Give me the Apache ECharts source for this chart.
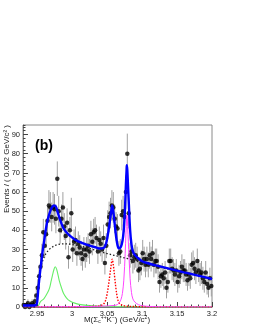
<!DOCTYPE html>
<html>
<head>
<meta charset="utf-8">
<script src="https://cdn.jsdelivr.net/npm/echarts@6/dist/echarts.min.js"></script>
<style>
html,body{margin:0;padding:0;background:#fff;}
#chart{width:255px;height:330px;}
</style>
</head>
<body>
<div id="chart"></div>
<script>
// ---- binning of the histogram (bin width 0.002 GeV/c^2) ----
const binFirstCenter = 2.931;
const binWidth = 0.002;

// ---- data: events per bin ----
const counts = [
  1, 0, 1, 2, 0, 1, 2, 1, 3, 6,
  10, 16, 21, 27, 39, 32, 38, 45, 53, 52,
  47, 52, 51, 46, 67, 50, 40, 46, 52, 42,
  37, 44, 26, 40, 49, 30, 34, 35, 28, 33,
  31, 28, 25, 30, 27, 30, 32, 29, 38, 34,
  39, 40, 36, 29, 35, 33, 30, 36, 23, 32,
  43, 47, 49, 53, 52, 46, 42, 41, 28, 29,
  48, 50, 47, 60, 80, 49, 27, 29, 24, 26,
  27, 25, 19, 20, 23, 28, 25, 22, 25, 22,
  27, 25, 28, 22, 24, 24, 21, 13, 16, 17,
  15, 18, 10, 13, 24, 24, 20, 19, 17, 19,
  13, 16, 18, 21, 19, 19, 17, 14, 17, 15,
  22, 23, 20, 18, 24, 19, 17, 18, 15, 13,
  18, 12, 10, 15, 11
];
// ---- data: error on each bin ----
const errors = [
  1.5, 1, 1.5, 2, 1, 1.5, 2, 1.5, 2.5, 3.5,
  4.5, 5, 5.5, 6, 7, 6.5, 7, 7.5, 8, 8,
  7.5, 8, 8, 7.5, 9, 8, 7, 7.5, 8, 7,
  7, 7.5, 6, 7, 8, 6.5, 6.5, 7, 6.5, 6.5,
  6.5, 6.5, 6, 6.5, 6.5, 6.5, 6.5, 6.5, 7, 7,
  7, 7, 7, 6.5, 7, 6.5, 6.5, 7, 6, 6.5,
  7.5, 8, 8, 8, 8, 7.5, 7.5, 7.5, 6.5, 6.5,
  8, 8, 8, 9, 10.5, 8, 6.5, 6.5, 6.5, 6.5,
  6.5, 6.5, 6, 6, 6.5, 7, 6.5, 6.5, 6.5, 6.5,
  7, 6.5, 7, 6.5, 6.5, 6.5, 6.5, 5.5, 6, 6,
  6, 6, 5.5, 5.5, 6.5, 6.5, 6, 6, 6, 6,
  5.5, 6, 6, 6.5, 6, 6, 6, 5.5, 6, 5.5,
  6.5, 6.5, 6, 6, 6.5, 6, 6, 6, 6, 5.5,
  6, 5.5, 5, 5.5, 5.5
];

// ---- fit curves ----
const totalCurve = [
  [2.930,0.8],[2.940,0.8],[2.948,0.9],[2.950,2],[2.952,10],[2.954,17],[2.956,23],[2.958,29],
  [2.960,34],[2.962,39],[2.964,43.5],[2.966,46.5],[2.968,49],[2.970,51],[2.972,52.3],
  [2.974,53],[2.976,52.9],[2.978,51.5],[2.980,49],[2.982,46.5],[2.984,44.5],[2.988,41],
  [2.992,39],[2.997,37.2],[3.005,35],[3.015,33.3],[3.025,32],[3.035,31],[3.040,30.5],
  [3.045,30.7],[3.048,32.4],[3.050,35.2],[3.052,39.5],[3.054,44.6],[3.056,50],[3.0574,53],
  [3.059,49.9],[3.061,43.3],[3.063,36.8],[3.065,32.3],[3.067,30.6],[3.069,30.9],[3.071,32.6],
  [3.073,36.7],[3.075,46],[3.076,54],[3.077,63.9],[3.078,71.7],[3.0783,74],[3.079,71.5],
  [3.080,63.5],[3.081,55.5],[3.083,40.3],[3.085,32.5],[3.087,29],[3.090,27],[3.095,25.3],
  [3.100,23.9],[3.110,22.7],[3.120,21.7],[3.140,19.9],[3.160,18.1],[3.180,16.4],[3.200,14.6]
];
const bgCurve = [
  [2.930,0],[2.949,0],[2.950,3],[2.952,12],[2.954,18],[2.956,21.5],[2.958,24],[2.960,26],
  [2.964,28.5],[2.968,30.2],[2.972,31.3],[2.976,32.1],[2.980,32.6],[2.986,33],[2.992,33],
  [3.000,32.6],[3.010,32],[3.020,31.1],[3.030,30],[3.040,28.9],[3.050,27.9],[3.060,27],
  [3.070,26.1],[3.080,25.2],[3.090,24.3],[3.100,23.0],[3.120,21.3],[3.140,19.6],[3.160,17.9],
  [3.180,16.2],[3.200,14.5]
];
const greenCurve = [
  [2.930,0],[2.950,0],[2.955,2.8],[2.960,4.4],[2.965,7.4],[2.968,10],[2.970,13.2],[2.972,16.4],
  [2.974,19.3],[2.976,21],[2.978,19.8],[2.980,16.8],[2.982,13.5],[2.985,10],[2.988,7],
  [2.992,4.8],[2.997,3.1],[3.005,1.9],[3.015,1.1],[3.030,0.6],[3.050,0.3],[3.080,0.15],
  [3.120,0.08],[3.200,0.04]
];
const redCurve = [
  [2.930,0.05],[3.000,0.1],[3.030,0.3],[3.040,0.6],[3.045,1.5],[3.048,3.5],[3.050,6.5],
  [3.052,11],[3.054,16.5],[3.056,22],[3.0574,25],[3.059,22],[3.061,15.5],[3.063,9],
  [3.065,4.5],[3.067,2.3],[3.070,1.2],[3.075,0.6],[3.085,0.3],[3.100,0.15],[3.200,0.05]
];
const magentaCurve = [
  [2.930,0.05],[3.000,0.15],[3.040,0.4],[3.060,0.8],[3.065,1.3],[3.068,2.5],[3.070,4],
  [3.072,7],[3.074,14],[3.076,28],[3.077,38],[3.078,46],[3.0783,48],[3.079,46],[3.080,38],
  [3.081,30],[3.083,15],[3.085,7.5],[3.087,4.2],[3.090,2.5],[3.095,1.2],[3.100,0.7],
  [3.110,0.3],[3.130,0.1],[3.200,0.05]
];

// ---- axis ticks ----
const xMajorTicks = [2.95, 3, 3.05, 3.1, 3.15, 3.2];
const yMajorTicks = [0, 10, 20, 30, 40, 50, 60, 70, 80, 90];

const points = counts.map((c, i) => [+(binFirstCenter + binWidth * i).toFixed(4), c, errors[i]]);

const font = 'Liberation Sans, Arial, Helvetica, sans-serif';
const chart = echarts.init(document.getElementById('chart'), null, {renderer: 'canvas'});

function curve(data, color, width, type, z) {
  return {
    type: 'line', data: data, xAxisIndex: 0, yAxisIndex: 0,
    showSymbol: false, symbol: 'none', smooth: 0.35, silent: true, z: z,
    lineStyle: {color: color, width: width, type: type},
    clip: true
  };
}

chart.setOption({
  animation: false,
  backgroundColor: '#fff',
  grid: {left: 23, right: 43, top: 125, bottom: 23, show: true,
         borderColor: '#8a8a8a', borderWidth: 1, backgroundColor: 'transparent'},
  xAxis: [
    {type: 'value', min: 2.93, max: 3.2, position: 'bottom',
     axisLine: {show: true, onZero: false, lineStyle: {color: '#777', width: 1}},
     axisTick: {show: true, inside: true, length: 5, customValues: xMajorTicks, lineStyle: {color: '#444'}},
     axisLabel: {show: true, customValues: xMajorTicks, fontSize: 7.5, color: '#222', margin: 3, fontFamily: font},
     splitLine: {show: false}},
    {type: 'value', min: 2.93, max: 3.2, interval: 0.01, position: 'bottom',
     axisLine: {show: false},
     axisTick: {show: true, inside: true, length: 2.5, lineStyle: {color: '#444'}},
     axisLabel: {show: false}, splitLine: {show: false}}
  ],
  yAxis: [
    {type: 'value', min: 0, max: 95, position: 'left',
     axisLine: {show: true, onZero: false, lineStyle: {color: '#777', width: 1}},
     axisTick: {show: true, inside: true, length: 5, customValues: yMajorTicks, lineStyle: {color: '#444'}},
     axisLabel: {show: true, customValues: yMajorTicks, fontSize: 7.5, color: '#222', margin: 3, fontFamily: font},
     splitLine: {show: false}},
    {type: 'value', min: 0, max: 95, interval: 2, position: 'left',
     axisLine: {show: false},
     axisTick: {show: true, inside: true, length: 2.5, lineStyle: {color: '#444'}},
     axisLabel: {show: false}, splitLine: {show: false}}
  ],
  graphic: [
    {type: 'text', x: 35, y: 139, z: 100,
     style: {text: '(b)', font: 'bold 14px ' + font, fill: '#000'}},
    {type: 'text', x: 6.5, y: 125, rotation: Math.PI / 2, z: 100,
     style: {text: 'Events / ( 0.002 GeV/c² )', font: '8px ' + font, fill: '#222',
             align: 'right', verticalAlign: 'middle'}},
    {type: 'text', x: 117, y: 320, z: 100,
     style: {text: 'M(Σ{sub|c}{sup|++}K{sup|−}) (GeV/c{sup|2})',
             font: '8px ' + font, fill: '#222', align: 'center', verticalAlign: 'middle',
             rich: {
               sub: {fontSize: 5, fontFamily: font, fill: '#222', padding: [4, 0, 0, 0]},
               sup: {fontSize: 5, fontFamily: font, fill: '#222', padding: [0, 0, 5, 0]}
             }}}
  ],
  series: [
    {type: 'custom', xAxisIndex: 0, yAxisIndex: 0, z: 2, silent: true, clip: true,
     data: points,
     renderItem: function (params, api) {
       const x = api.value(0), y = api.value(1), e = api.value(2);
       const a = api.coord([x, y + e]);
       const b = api.coord([x, Math.max(0, y - e)]);
       return {type: 'line', shape: {x1: a[0], y1: a[1], x2: b[0], y2: b[1]},
               style: {stroke: '#a0a0a0', lineWidth: 1}};
     }},
    {type: 'scatter', xAxisIndex: 0, yAxisIndex: 0, z: 3, silent: true,
     data: points.map(p => [p[0], p[1]]), symbol: 'circle', symbolSize: 4.5,
     itemStyle: {color: '#000'}},
    curve(greenCurve, '#66ee66', 1.1, 'solid', 4),
    curve(redCurve, '#ff0000', 1.4, [1.5, 1.5], 4),
    curve(magentaCurve, '#ff44ff', 1, 'solid', 4),
    curve(bgCurve, '#222', 1.3, [1.5, 2], 5),
    curve(totalCurve, '#0000ff', 2.4, 'solid', 6)
  ]
});
</script>
</body>
</html>
